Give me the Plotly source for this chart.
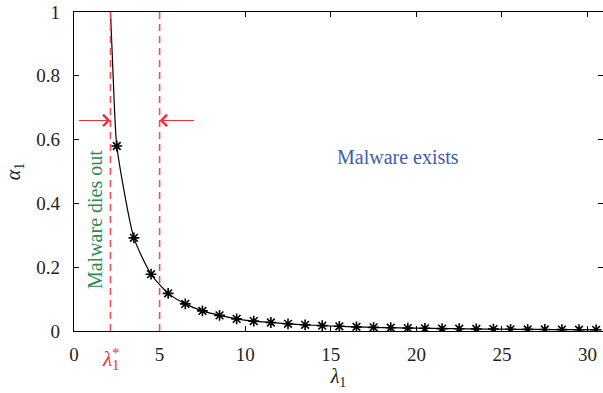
import plotly.graph_objects as go

# data
lam_marks = [2.5, 3.5, 4.5, 5.5, 6.5, 7.5, 8.5, 9.5, 10.5, 11.5, 12.5, 13.5, 14.5, 15.5,
             16.5, 17.5, 18.5, 19.5, 20.5, 21.5, 22.5, 23.5, 24.5, 25.5, 26.5, 27.5,
             28.5, 29.5, 30.5]
alpha_marks = [0.580, 0.292, 0.178, 0.118, 0.085, 0.063, 0.049, 0.038, 0.031, 0.0267,
               0.0226, 0.0194, 0.0168, 0.0147, 0.0130, 0.0115, 0.0103, 0.0093, 0.0084,
               0.0076, 0.0070, 0.0064, 0.0059, 0.0054, 0.0050, 0.0047, 0.0043, 0.0041,
               0.0038]
lam_head = [2.13, 2.3]
alpha_head = [1.0, 0.78]

lam_star = 2.13
lam_five = 5.0
arrow_y = 0.66
arrow_left_tail = 0.2
arrow_right_tail = 7.1

x_ticks = [0, 5, 10, 15, 20, 25, 30]
y_ticks = [0, 0.2, 0.4, 0.6, 0.8, 1]
y_ticklabels = ["0", "0.2", "0.4", "0.6", "0.8", "1"]

FONT = "Liberation Serif"
TXT = "#231f20"
RED_DASH = "#ef5058"
RED = "#f03038"
GREEN = "#2e8b50"
BLUE = "#3d5dab"

fig = go.Figure()

# smooth curve
fig.add_trace(go.Scatter(
    x=lam_head + lam_marks, y=alpha_head + alpha_marks, mode="lines",
    line=dict(color="black", width=1.2, shape="spline", smoothing=0.6),
    hoverinfo="skip", showlegend=False))
# markers
fig.add_trace(go.Scatter(
    x=lam_marks, y=alpha_marks, mode="markers",
    marker=dict(symbol="asterisk-open", size=9, color="black",
                line=dict(color="black", width=1.6)),
    showlegend=False))

# dashed vertical lines
for xv in (lam_star, lam_five):
    fig.add_shape(type="line", x0=xv, x1=xv, y0=0, y1=1, xref="x", yref="y",
                  line=dict(color=RED_DASH, width=1.6, dash="7px,5px"))

# arrows
fig.add_annotation(x=lam_star, y=arrow_y, ax=arrow_left_tail, ay=arrow_y,
                   xref="x", yref="y", axref="x", ayref="y", text="",
                   showarrow=True, arrowhead=4, arrowsize=2, arrowwidth=1.1,
                   arrowcolor=RED)
fig.add_annotation(x=lam_five, y=arrow_y, ax=arrow_right_tail, ay=arrow_y,
                   xref="x", yref="y", axref="x", ayref="y", text="",
                   showarrow=True, arrowhead=4, arrowsize=2, arrowwidth=1.1,
                   arrowcolor=RED)

# texts
fig.add_annotation(x=1.23, y=0.348, xref="x", yref="y", text="Malware dies out",
                   textangle=-90, showarrow=False,
                   font=dict(family=FONT, size=20, color=GREEN))
fig.add_annotation(x=18.9, y=0.545, xref="x", yref="y", text="Malware exists",
                   showarrow=False, font=dict(family=FONT, size=20, color=BLUE))

# lambda_1^* label below axis
fig.add_annotation(x=lam_star, y=0, xref="x", yref="paper", yanchor="top",
                   yshift=-14, text="<i>λ</i><sub>1</sub>", showarrow=False,
                   font=dict(family=FONT, size=21, color=RED))
fig.add_annotation(x=lam_star, y=0, xref="x", yref="paper", yanchor="top",
                   yshift=-12, xshift=6, text="*", showarrow=False,
                   font=dict(family=FONT, size=15, color=RED))

axis_common = dict(showline=True, linecolor="black", linewidth=1.2, mirror="ticks",
                   ticks="inside", ticklen=5, tickcolor="black", tickwidth=1.2,
                   showgrid=False, zeroline=False, automargin=False,
                   tickfont=dict(family=FONT, size=19, color=TXT))

fig.update_xaxes(range=[0, 30.9], tickvals=x_ticks, ticklabelstandoff=6,
                 title=dict(text="<i>λ</i><sub>1</sub>", standoff=2,
                            font=dict(family=FONT, size=20, color=TXT)),
                 **axis_common)
fig.update_yaxes(range=[0, 1], tickvals=y_ticks, ticktext=y_ticklabels,
                 ticklabelstandoff=9,
                 title=dict(text="<i>α</i><sub>1</sub>", standoff=10,
                            font=dict(family=FONT, size=20, color=TXT)),
                 **axis_common)

fig.update_layout(width=603, height=393, margin=dict(l=74, r=0, t=12, b=62),
                  plot_bgcolor="white", paper_bgcolor="white")

fig.write_html("out.html", config={"displayModeBar": False},
               post_script="document.body.style.margin='0';"
                           "document.body.style.overflow='hidden';")
